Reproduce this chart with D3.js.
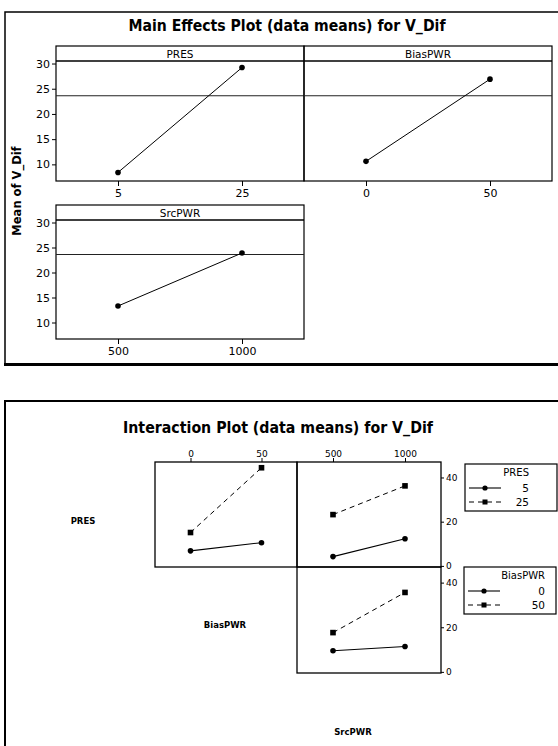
<!DOCTYPE html>
<html><head><meta charset="utf-8">
<script src="https://cdn.jsdelivr.net/npm/d3@7"></script>
<style>
body{margin:0;background:#fff;}
svg{display:block;font-family:"DejaVu Sans",Verdana,sans-serif;}
</style></head>
<body><svg id="c" width="558" height="746"></svg>
<script>
// ---------- DATA ----------
const mainFactors = ["PRES", "BiasPWR", "SrcPWR"];
const presLevels = ["5", "25"];
const biasLevels = ["0", "50"];
const srcLevels = ["500", "1000"];
const presMeans = [8.4, 29.2];
const biasMeans = [10.6, 26.9];
const srcMeans = [13.3, 23.9];
const mainRefLine = 23.6;
const mainYTicks = [10, 15, 20, 25, 30];

// interaction means
const pres5ByBias = [6.8, 10.5];
const pres25ByBias = [15.1, 44.4];
const pres5BySrc = [4.2, 12.3];
const pres25BySrc = [23.2, 36.2];
const bias0BySrc = [9.5, 11.4];
const bias50BySrc = [17.6, 35.6];
const interYTicks = [0, 20, 40];
const presLegend = ["5", "25"];
const biasLegend = ["0", "50"];

// ---------- DRAW ----------
const svg = d3.select("#c");

// ===== Main effects frame =====
svg.append("path").attr("d","M5,365 L5,12 L560,12").attr("fill","none").attr("stroke","#000").attr("stroke-width",1.5);
svg.append("line").attr("x1",4).attr("x2",560).attr("y1",364.5).attr("y2",364.5).attr("stroke","#000").attr("stroke-width",3);

svg.append("text").attr("x",287).attr("y",30.5).attr("text-anchor","middle")
  .attr("font-size",16).attr("font-weight","bold").attr("textLength",317).attr("lengthAdjust","spacingAndGlyphs")
  .text("Main Effects Plot (data means) for V_Dif");

svg.append("text").attr("transform","translate(21,191) rotate(-90)").attr("text-anchor","middle")
  .attr("font-size",11.5).attr("font-weight","bold").text("Mean of V_Dif");

const mainPanels = [
  {name: mainFactors[0], levels: presLevels, means: presMeans, x0: 56, x1: 304, top: 46, strip: 61, bottom: 181, yAxis: true},
  {name: mainFactors[1], levels: biasLevels, means: biasMeans, x0: 304, x1: 552, top: 46, strip: 61, bottom: 181, yAxis: false},
  {name: mainFactors[2], levels: srcLevels, means: srcMeans, x0: 56, x1: 304, top: 205, strip: 220, bottom: 339, yAxis: true}
];

mainPanels.forEach(p => {
  const x = d3.scalePoint().domain(p.levels).range([p.x0, p.x1]).padding(0.5);
  const y = d3.scaleLinear().domain([6.7, 30.5]).range([p.bottom, p.strip]);
  const g = svg.append("g");
  g.append("rect").attr("x",p.x0).attr("y",p.top).attr("width",p.x1-p.x0).attr("height",p.bottom-p.top)
    .attr("fill","none").attr("stroke","#000").attr("stroke-width",1.2);
  g.append("line").attr("x1",p.x0).attr("x2",p.x1).attr("y1",p.strip).attr("y2",p.strip).attr("stroke","#000").attr("stroke-width",1.6);
  g.append("text").attr("x",(p.x0+p.x1)/2).attr("y",p.strip-3.5).attr("text-anchor","middle").attr("font-size",10.5).text(p.name);
  // reference line
  g.append("line").attr("x1",p.x0).attr("x2",p.x1).attr("y1",y(mainRefLine)).attr("y2",y(mainRefLine)).attr("stroke","#222").attr("stroke-width",1.1);
  // x axis
  const xa = g.append("g").attr("transform",`translate(0,${p.bottom})`)
    .call(d3.axisBottom(x).tickSize(5).tickPadding(3));
  xa.select(".domain").remove();
  xa.selectAll("text").attr("font-size",11).attr("font-family","DejaVu Sans, sans-serif");
  if (p.yAxis) {
    const ya = g.append("g").attr("transform",`translate(${p.x0},0)`)
      .call(d3.axisLeft(y).tickValues(mainYTicks).tickSize(4).tickPadding(2));
    ya.select(".domain").remove();
    ya.selectAll("text").attr("font-size",11).attr("font-family","DejaVu Sans, sans-serif");
  }
  const pts = p.levels.map((l,i)=>[x(l), y(p.means[i])]);
  g.append("path").attr("d", d3.line()(pts)).attr("fill","none").attr("stroke","#000").attr("stroke-width",1);
  g.selectAll("circle").data(pts).enter().append("circle").attr("cx",d=>d[0]).attr("cy",d=>d[1]).attr("r",2.8).attr("fill","#000");
});

// ===== Interaction frame =====
svg.append("path").attr("d","M5,750 L5,401 L560,401").attr("fill","none").attr("stroke","#000").attr("stroke-width",2);

svg.append("text").attr("x",278).attr("y",433).attr("text-anchor","middle")
  .attr("font-size",16).attr("font-weight","bold").attr("textLength",310).attr("lengthAdjust","spacingAndGlyphs")
  .text("Interaction Plot (data means) for V_Dif");

// diagonal labels
[["PRES",83,524],["BiasPWR",225,628],["SrcPWR",353,735]].forEach(d=>{
  svg.append("text").attr("x",d[1]).attr("y",d[2]).attr("text-anchor","middle").attr("font-size",8.5).attr("font-weight","bold").text(d[0]);
});

const cols = [{levels: biasLevels, x0: 155, x1: 297}, {levels: srcLevels, x0: 297, x1: 441}];
const rows = [{top: 462, bottom: 567}, {top: 567, bottom: 673}];
const interDomain = [-0.5, 47];

const interPanels = [
  {c: 0, r: 0, a: pres5ByBias, b: pres25ByBias},
  {c: 1, r: 0, a: pres5BySrc, b: pres25BySrc},
  {c: 1, r: 1, a: bias0BySrc, b: bias50BySrc}
];

const xs = cols.map(c => d3.scalePoint().domain(c.levels).range([c.x0, c.x1]).padding(0.5));
const ys = rows.map(r => d3.scaleLinear().domain(interDomain).range([r.bottom, r.top]));

interPanels.forEach(p => {
  const c = cols[p.c], r = rows[p.r], x = xs[p.c], y = ys[p.r];
  const g = svg.append("g");
  g.append("rect").attr("x",c.x0).attr("y",r.top).attr("width",c.x1-c.x0).attr("height",r.bottom-r.top)
    .attr("fill","none").attr("stroke","#000").attr("stroke-width",1.3);
  const ptsA = c.levels.map((l,i)=>[x(l), y(p.a[i])]);
  const ptsB = c.levels.map((l,i)=>[x(l), y(p.b[i])]);
  g.append("path").attr("d", d3.line()(ptsA)).attr("fill","none").attr("stroke","#000").attr("stroke-width",1.1);
  g.append("path").attr("d", d3.line()(ptsB)).attr("fill","none").attr("stroke","#000").attr("stroke-width",1).attr("stroke-dasharray","5,4");
  g.selectAll("circle").data(ptsA).enter().append("circle").attr("cx",d=>d[0]).attr("cy",d=>d[1]).attr("r",2.8).attr("fill","#000");
  g.selectAll("rect.sq").data(ptsB).enter().append("rect").attr("class","sq")
    .attr("x",d=>d[0]-2.8).attr("y",d=>d[1]-2.8).attr("width",5.6).attr("height",5.6).attr("fill","#000");
});

// top x axes
cols.forEach((c,i) => {
  const xa = svg.append("g").attr("transform",`translate(0,${rows[0].top})`)
    .call(d3.axisTop(xs[i]).tickSize(4).tickPadding(1.5));
  xa.select(".domain").remove();
  xa.selectAll("text").attr("font-size",9).attr("font-family","DejaVu Sans, sans-serif");
});
// right y axes
rows.forEach((r,i) => {
  const ya = svg.append("g").attr("transform",`translate(${cols[1].x1},0)`)
    .call(d3.axisRight(ys[i]).tickValues(interYTicks).tickSize(3).tickPadding(2));
  ya.select(".domain").remove();
  ya.selectAll("text").attr("font-size",9).attr("font-family","DejaVu Sans, sans-serif");
});

// legends
function legend(title, items, bx, by, textRight) {
  const g = svg.append("g");
  g.append("rect").attr("x",bx).attr("y",by).attr("width",92).attr("height",47).attr("fill","#fff").attr("stroke","#000").attr("stroke-width",1.2);
  g.append("text").attr("x",textRight).attr("y",by+12).attr("text-anchor","end").attr("font-size",10).text(title);
  items.forEach((t,i) => {
    const yy = by + 24 + i*14;
    const ln = g.append("line").attr("x1",bx+4).attr("x2",bx+36).attr("y1",yy).attr("y2",yy).attr("stroke","#000").attr("stroke-width",1.1);
    if (i === 0) {
      g.append("circle").attr("cx",bx+20).attr("cy",yy).attr("r",2.6).attr("fill","#000");
    } else {
      ln.attr("stroke-dasharray","5,4");
      g.append("rect").attr("x",bx+17.5).attr("y",yy-2.5).attr("width",5).attr("height",5).attr("fill","#000");
    }
    g.append("text").attr("x",textRight).attr("y",yy+3.5).attr("text-anchor","end").attr("font-size",10.5).text(t);
  });
}
legend(mainFactors[0], presLegend, 465, 464, 529);
legend(mainFactors[1], biasLegend, 464, 567, 545);
</script></body></html>
